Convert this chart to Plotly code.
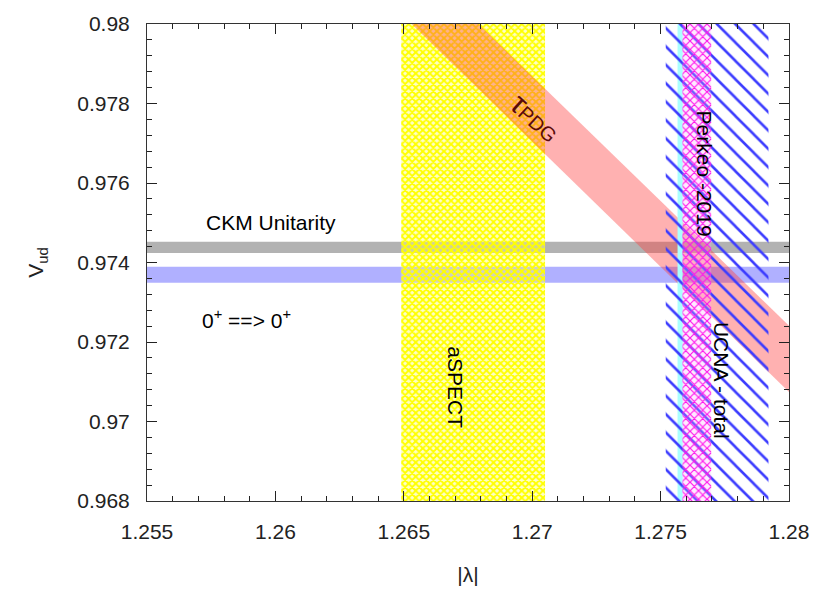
import plotly.graph_objects as go

# ---- data ----
lam_range = [1.255, 1.28]
v_range = [0.968, 0.98]

ckm_band = [0.97424, 0.97452]          # CKM unitarity
superallowed_band = [0.97349, 0.97389]  # 0+ ==> 0+
aspect_band = [1.2649, 1.2705]          # aSPECT
ucna_band = [1.2752, 1.2792]            # UCNA - total
perkeo_band = [1.27585, 1.27697]        # Perkeo -2019
cyan_band = [1.27566, 1.27586]

# tau_PDG diagonal band: corners (lambda, Vud)
tau_lam = [1.26531, 1.26791, 1.28, 1.28]
tau_v = [0.98, 0.98, 0.97241, 0.97074]

x_tickvals = [1.255, 1.26, 1.265, 1.27, 1.275, 1.28]
x_ticktext = ["1.255", "1.26", "1.265", "1.27", "1.275", "1.28"]
y_tickvals = [0.968, 0.97, 0.972, 0.974, 0.976, 0.978, 0.98]
y_ticktext = ["0.968", "0.97", "0.972", "0.974", "0.976", "0.978", "0.98"]

FONT = "Liberation Sans, Arial, Helvetica, sans-serif"

def hband(y0, y1):
    return ([lam_range[0], lam_range[1], lam_range[1], lam_range[0], lam_range[0]],
            [y0, y0, y1, y1, y0])

def vband(x0, x1):
    return ([x0, x1, x1, x0, x0],
            [v_range[0], v_range[0], v_range[1], v_range[1], v_range[0]])

fig = go.Figure()

def add_poly(xs, ys, fillcolor, pattern=None):
    kw = dict(x=xs, y=ys, mode="lines", fill="toself", line=dict(width=0),
              fillcolor=fillcolor, hoverinfo="skip", showlegend=False)
    if pattern is not None:
        kw["fillpattern"] = pattern
    fig.add_trace(go.Scatter(**kw))

# horizontal bands
x, y = hband(*ckm_band)
add_poly(x, y, "rgb(178,178,178)")
x, y = hband(*superallowed_band)
add_poly(x, y, "rgb(176,176,255)")

# aSPECT (yellow, crosshatch texture)
x, y = vband(*aspect_band)
add_poly(x, y, "rgba(0,0,0,0)",
         dict(shape="x", fgcolor="rgb(255,255,0)", bgcolor="rgba(255,255,110,0.4)",
              fgopacity=1, size=5, solidity=0.62))

# tau PDG band (translucent red)
add_poly(tau_lam + [tau_lam[0]], tau_v + [tau_v[0]], "rgba(255,60,60,0.40)")

# cyan band
x, y = vband(*cyan_band)
add_poly(x, y, "rgb(170,255,255)")

# UCNA (blue diagonal hatch)
x, y = vband(*ucna_band)
add_poly(x, y, "rgba(0,0,0,0)",
         dict(shape="\\", fgcolor="rgb(60,60,255)", bgcolor="rgba(0,0,0,0)",
              fgopacity=1, size=13, solidity=0.2))

# Perkeo 2019 (magenta crosshatch)
x, y = vband(*perkeo_band)
add_poly(x, y, "rgba(0,0,0,0)",
         dict(shape="x", fgcolor="rgb(255,20,235)", bgcolor="rgba(255,170,255,0.25)",
              fgopacity=1, size=6, solidity=0.35))

# labels
ann = [
    dict(x=1.25981, y=0.97500, text="CKM Unitarity", textangle=0, size=21, color="black"),
    dict(x=1.25888, y=0.97258, text="0<sup>+</sup> ==> 0<sup>+</sup>", textangle=0, size=21, color="black"),
    dict(x=1.26698, y=0.97087, text="aSPECT", textangle=90, size=21, color="black"),
    dict(x=1.27671, y=0.97625, text="Perkeo -2019", textangle=90, size=21, color="black"),
    dict(x=1.27740, y=0.97104, text="UCNA - total", textangle=90, size=21, color="black"),
    dict(x=1.27012, y=0.97765, text="<span style='font-size:30px'>τ</span>PDG",
         textangle=42, size=20, color="rgb(90,10,10)"),
]
for a in ann:
    fig.add_annotation(x=a["x"], y=a["y"], xref="x", yref="y", text=a["text"],
                       textangle=a["textangle"], showarrow=False,
                       font=dict(family=FONT, size=a["size"], color=a["color"]))

axis_common = dict(
    showgrid=False, zeroline=False, showline=True, linecolor="#333333", linewidth=1,
    mirror="ticks", ticks="inside", ticklen=10, tickcolor="#222222", tickwidth=1,
    tickfont=dict(family=FONT, size=21, color="#222222"),
    ticklabeloverflow="allow",
)

fig.update_xaxes(
    range=lam_range, tickmode="array", tickvals=x_tickvals, ticktext=x_ticktext,
    ticklabelstandoff=12,
    minor=dict(tickmode="linear", tick0=1.255, dtick=0.001, ticks="inside",
               ticklen=5, tickcolor="#222222"),
    title=dict(text="|λ|", font=dict(family=FONT, size=21, color="#222222"), standoff=25),
    **axis_common,
)
fig.update_yaxes(
    range=v_range, tickmode="array", tickvals=y_tickvals, ticktext=y_ticktext,
    ticklabelstandoff=12,
    minor=dict(tickmode="linear", tick0=0.968, dtick=0.0004, ticks="inside",
               ticklen=5, tickcolor="#222222"),
    title=dict(text="V<sub>ud</sub>", font=dict(family=FONT, size=21, color="#222222"), standoff=27),
    **axis_common,
)

fig.update_layout(
    width=821, height=595,
    margin=dict(l=147, r=29, t=12, b=93),
    plot_bgcolor="white", paper_bgcolor="white",
    font=dict(family=FONT),
)

fig.write_html(
    "out.html",
    config={"displayModeBar": False},
    post_script="document.body.style.margin='0';document.body.style.padding='0';",
)
